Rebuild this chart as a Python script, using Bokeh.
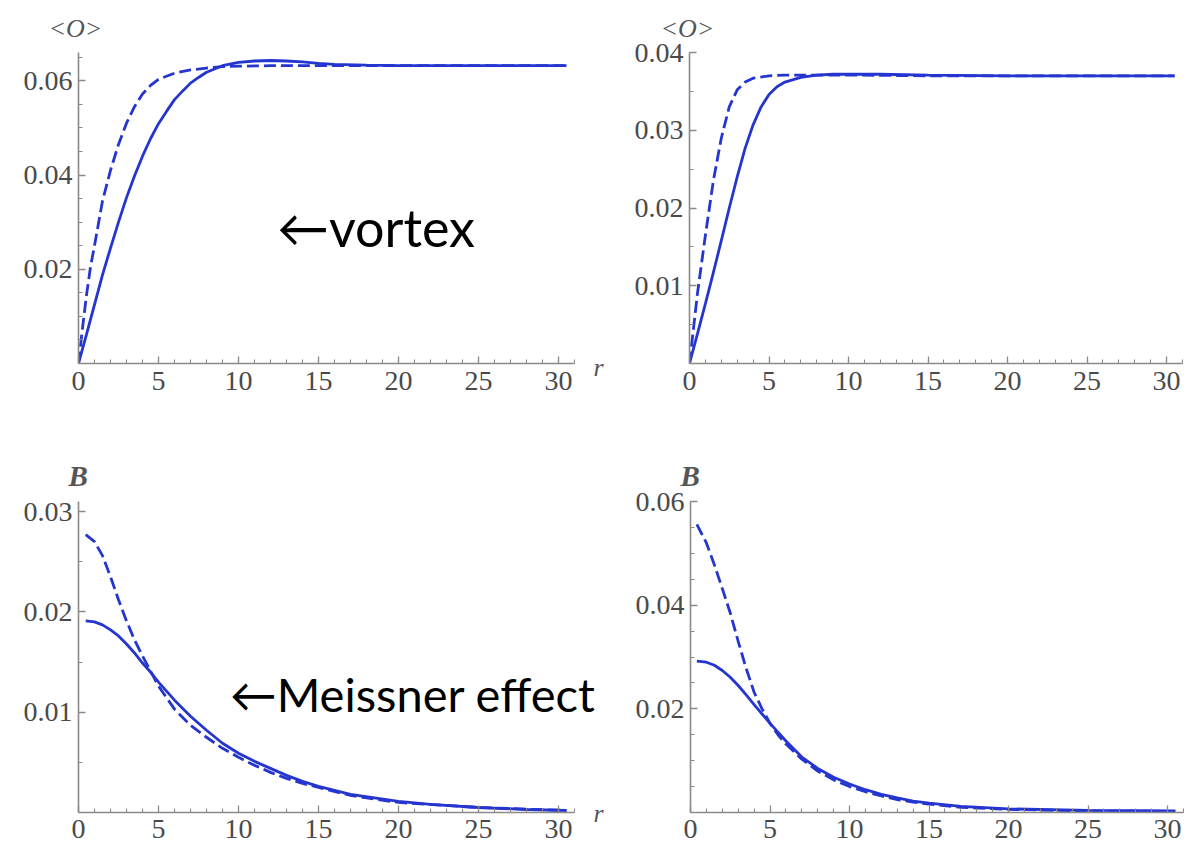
from bokeh.plotting import figure
from bokeh.layouts import column, row
from bokeh.models import FixedTicker, PrintfTickFormatter, Label, Range1d, Title
from bokeh.embed import file_html
from bokeh.resources import INLINE

# ---------------- data ----------------
# top-left: <O>
tl_solid_r = [0, 0.5, 1, 1.5, 2, 2.5, 3, 3.5, 4, 4.5, 5, 5.5, 6, 6.5, 7, 7.5, 8, 9, 10, 11, 12, 13, 14, 15, 16, 18, 20, 25, 30.5]
tl_solid_v = [0, 0.0062, 0.0125, 0.0188, 0.0245, 0.0300, 0.0352, 0.0398, 0.0440, 0.0477, 0.0509, 0.0535, 0.0560, 0.0578,
              0.0595, 0.0607, 0.0618, 0.0632, 0.0639, 0.0642, 0.0643, 0.0642, 0.0640, 0.0637, 0.0635, 0.0633, 0.0632, 0.0632, 0.0632]
tl_dash_r = [0, 0.25, 0.5, 0.75, 1, 1.5, 2, 2.5, 3, 3.5, 4, 4.5, 5, 6, 7, 8, 9, 10, 12, 15, 20, 25, 30.5]
tl_dash_v = [0, 0.0075, 0.0145, 0.0205, 0.0250, 0.0345, 0.0410, 0.0465, 0.0510, 0.0545, 0.0572, 0.0590, 0.0603, 0.0616,
             0.0623, 0.0627, 0.0630, 0.0631, 0.0632, 0.0632, 0.0632, 0.0632, 0.0632]

# top-right: <O>
tr_solid_r = [0, 0.5, 1, 1.5, 2, 2.5, 3, 3.5, 4, 4.5, 5, 5.5, 6, 7, 8, 9, 10, 12, 15, 20, 30.5]
tr_solid_v = [0, 0.0038, 0.0077, 0.0117, 0.0158, 0.0200, 0.0240, 0.0277, 0.0307, 0.0330, 0.0346, 0.0356, 0.0362, 0.0368,
              0.0371, 0.0372, 0.0372, 0.0372, 0.0371, 0.0370, 0.0370]
tr_dash_r = [0, 0.5, 1, 1.5, 2, 2.5, 3, 3.5, 4, 5, 6, 8, 10, 15, 20, 30.5]
tr_dash_v = [0, 0.0090, 0.0165, 0.0235, 0.0290, 0.0330, 0.0352, 0.0362, 0.0367, 0.0370, 0.0371, 0.0371, 0.0371, 0.0370,
             0.0370, 0.0370]

# bottom-left: B
bl_solid_r = [0.45, 1, 1.5, 2, 2.5, 3, 3.5, 4, 4.5, 5, 6, 7, 8, 9, 10, 11, 12, 13, 14, 15, 17, 20, 22, 25, 28, 30.5]
bl_solid_v = [0.0191, 0.0190, 0.0187, 0.0182, 0.0176, 0.0168, 0.0159, 0.0149, 0.0140, 0.0130, 0.0112, 0.0096, 0.0082,
              0.0069, 0.0059, 0.0051, 0.0044, 0.0037, 0.0031, 0.0026, 0.0018, 0.0011, 0.0008, 0.0005, 0.0003, 0.0002]
bl_dash_r = [0.45, 1, 1.5, 2, 2.5, 3, 3.5, 4, 4.5, 5, 6, 7, 8, 9, 10, 11, 12, 13, 14, 15, 17, 20, 25, 30.5]
bl_dash_v = [0.0277, 0.0270, 0.0256, 0.0235, 0.0212, 0.0191, 0.0172, 0.0156, 0.0141, 0.0126, 0.0103, 0.0087, 0.0075,
             0.0064, 0.0055, 0.0047, 0.0040, 0.0034, 0.0029, 0.0025, 0.0017, 0.0010, 0.0005, 0.0002]

# bottom-right: B
br_solid_r = [0.4, 1, 1.5, 2, 2.5, 3, 3.5, 4, 4.5, 5, 5.5, 6, 7, 8, 9, 10, 11, 12, 13, 14, 15, 17, 20, 25, 30.5]
br_solid_v = [0.0292, 0.0290, 0.0284, 0.0274, 0.0261, 0.0245, 0.0227, 0.0208, 0.0190, 0.0172, 0.0155, 0.0138, 0.0107,
              0.0085, 0.0068, 0.0055, 0.0044, 0.0035, 0.0028, 0.0022, 0.0018, 0.0012, 0.0007, 0.0004, 0.0003]
br_dash_r = [0.4, 1, 1.5, 2, 2.5, 3, 3.5, 4, 4.5, 5, 5.5, 6, 7, 8, 9, 10, 11, 12, 13, 14, 15, 17, 20, 25, 30.5]
br_dash_v = [0.0556, 0.0520, 0.0478, 0.0432, 0.0385, 0.0330, 0.0278, 0.0232, 0.0200, 0.0172, 0.0150, 0.0132, 0.0103,
             0.0080, 0.0063, 0.0050, 0.0040, 0.0032, 0.0025, 0.0020, 0.0016, 0.0010, 0.0006, 0.0003, 0.0002]

x_major = [0, 5, 10, 15, 20, 25, 30]
x_minor = list(range(0, 32))
tl_yticks = [0.02, 0.04, 0.06]
tr_yticks = [0.01, 0.02, 0.03, 0.04]
bl_yticks = [0.01, 0.02, 0.03]
br_yticks = [0.02, 0.04, 0.06]

# ---------------- style ----------------
BLUE = "#2535cf"
AXIS = "#8a8a8a"
TICKLBL = "#4a4a4a"
SERIF = "Liberation Serif"


def panel(width, height, mbl, mbr, mbt, mbb, xmax, ymax, yticks, ystep, sr, sv, dr, dv, label_standoff):
    p = figure(width=width, height=height, x_range=Range1d(0, xmax), y_range=Range1d(0, ymax),
               output_backend="svg", toolbar_location=None,
               min_border_left=mbl, min_border_right=mbr, min_border_top=mbt, min_border_bottom=mbb)
    p.outline_line_color = None
    p.grid.visible = False
    p.background_fill_color = "white"
    p.border_fill_color = "white"
    nminor = int(round(ymax / ystep)) + 1
    yminor = [round(k * ystep, 6) for k in range(nminor)]
    p.xaxis.ticker = FixedTicker(ticks=x_major, minor_ticks=x_minor)
    p.yaxis.ticker = FixedTicker(ticks=yticks, minor_ticks=yminor)
    p.yaxis.formatter = PrintfTickFormatter(format="%.2f")
    p.xaxis.bounds = (0, 31)
    for ax in (p.xaxis[0], p.yaxis[0]):
        ax.axis_line_color = AXIS
        ax.axis_line_width = 1.6
        ax.major_tick_line_color = AXIS
        ax.minor_tick_line_color = AXIS
        ax.major_tick_line_width = 1.3
        ax.minor_tick_line_width = 1.1
        ax.major_tick_in = 7
        ax.major_tick_out = 0
        ax.minor_tick_in = 4
        ax.minor_tick_out = 0
        ax.major_label_text_font = SERIF
        ax.major_label_text_font_size = "28px"
        ax.major_label_text_color = TICKLBL
    p.yaxis.major_label_standoff = 6
    p.xaxis.major_label_standoff = label_standoff
    p.line(sr, sv, line_color=BLUE, line_width=2.8)
    p.line(dr, dv, line_color=BLUE, line_width=2.8, line_dash="12 5")
    return p


def add_title(p, text, offset, standoff, place="above", align="left", style="italic", size="26px"):
    p.add_layout(Title(text=text, align=align, offset=offset, standoff=standoff, text_font=SERIF,
                       text_font_style=style, text_font_size=size, text_color="#555555"), place)


def add_r_label(p, standoff):
    ax = p.xaxis[0]
    ax.axis_label = "r"
    ax.axis_label_text_font = SERIF
    ax.axis_label_text_font_style = "italic"
    ax.axis_label_text_font_size = "26px"
    ax.axis_label_text_color = "#555555"
    ax.axis_label_standoff = standoff
    ax.axis_label_align = "end"


# page origin (0,0); top frames y 52..363, bottom frames y 500..812
tl = panel(624, 413, 78, 26, 52, 50, 32.5, 0.066, tl_yticks, 0.005, tl_solid_r, tl_solid_v, tl_dash_r, tl_dash_v, 8)
tr = panel(562, 413, 65, 4, 52, 50, 31, 0.04, tr_yticks, 0.005, tr_solid_r, tr_solid_v, tr_dash_r, tr_dash_v, 8)
bl = panel(628, 434, 78, 30, 88, 35, 32.5, 0.031, bl_yticks, 0.005, bl_solid_r, bl_solid_v, bl_dash_r, bl_dash_v, 7)
br = panel(559, 434, 62, 4, 88, 35, 31, 0.06, br_yticks, 0.005, br_solid_r, br_solid_v, br_dash_r, br_dash_v, 7)

add_title(tl, "<O>", -30, 19)
add_title(tr, "<O>", -29, 19)
add_title(bl, "B", -10, 20, style="bold italic", size="29px")
add_title(br, "B", -10, 20, style="bold italic", size="29px")

add_r_label(tl, -40)
add_r_label(bl, -42)

tl.add_layout(Label(x=12.4, y=0.0290, text="\u2190vortex", text_align="left", text_baseline="alphabetic",
                    text_font="Lato", text_font_size="52px", text_color="#000000"))
bl.add_layout(Label(x=9.45, y=0.0118, text="\u2190Meissner effect", text_align="left", text_baseline="alphabetic",
                    text_font="Lato", text_font_size="47px", text_color="#000000"))

layout = column(row(tl, tr), row(bl, br))
open("out.html", "w").write(file_html(layout, INLINE))
